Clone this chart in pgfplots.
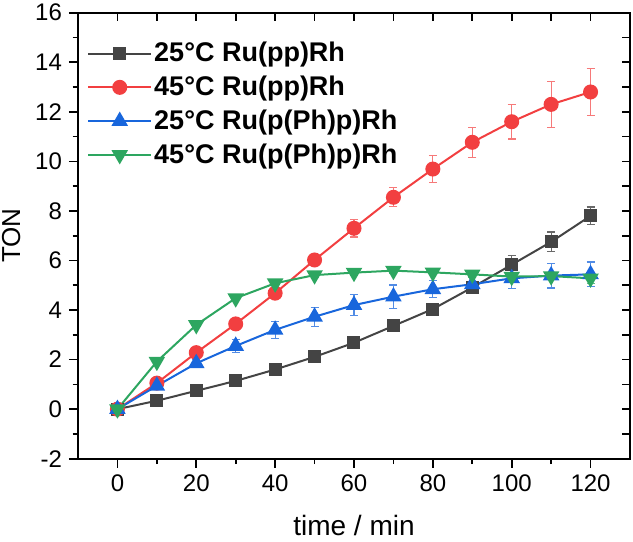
\documentclass[border=0pt]{standalone}
\usepackage{pgfplots}
\pgfplotsset{compat=1.18}
\usepackage{pgfplotstable}
\usepackage{fontspec}
\setmainfont{Liberation Sans}

\definecolor{cgray}{HTML}{444444}
\definecolor{cred}{HTML}{F23F40}
\definecolor{cblue}{HTML}{1866DC}
\definecolor{cgreen}{HTML}{2DA660}

% time / min, TON, error
\pgfplotstableread{
t y e
0 0 0
10 0.34 0.03
20 0.74 0.05
30 1.14 0.05
40 1.60 0.08
50 2.11 0.10
60 2.68 0.10
70 3.36 0.15
80 4.04 0.20
90 4.91 0.22
100 5.83 0.37
110 6.75 0.40
120 7.80 0.36
}\rppTwentyFive
\pgfplotstableread{
t y e
0 0 0
10 1.05 0.05
20 2.28 0.10
30 3.44 0.10
40 4.68 0.15
50 6.02 0.20
60 7.30 0.35
70 8.55 0.38
80 9.69 0.55
90 10.77 0.60
100 11.60 0.70
110 12.30 0.92
120 12.80 0.95
}\rppFortyFive
\pgfplotstableread{
t y e
0 0 0
10 0.94 0.10
20 1.85 0.15
30 2.55 0.25
40 3.20 0.34
50 3.73 0.38
60 4.20 0.42
70 4.54 0.47
80 4.84 0.35
90 5.04 0.38
100 5.28 0.40
110 5.39 0.50
120 5.44 0.50
}\rphpTwentyFive
\pgfplotstableread{
t y e
0 0 0
10 1.92 0.05
20 3.40 0.05
30 4.48 0.05
40 5.08 0.05
50 5.41 0.10
60 5.51 0.10
70 5.59 0.10
80 5.52 0.10
90 5.44 0.12
100 5.35 0.15
110 5.37 0.15
120 5.28 0.20
}\rphpFortyFive

\pgfplotsset{
  frame/.style={
    scale only axis, width=276pt, height=223pt,
    xmin=-10, xmax=130, ymin=-2, ymax=16,
    axis line style={line width=0.8pt, black},
  },
  errs/.style={
    error bars/.cd, y dir=both, y explicit,
    error bar style={line width=0.6pt, #1},
    error mark options={rotate=90, mark size=2pt, line width=0.6pt, #1},
  },
}

\begin{document}
\begin{tikzpicture}
\begin{axis}[
  frame,
  xtick={0,20,...,120}, ytick={-2,0,...,16},
  minor x tick num=1, minor y tick num=1,
  xtick pos=left, ytick pos=left,
  tick align=outside,
  major tick length=4.5pt, minor tick length=2.7pt,
  tick style={line width=0.8pt, black},
  /pgf/number format/assume math mode=true,
  ticklabel style={font=\fontsize{12}{14}\selectfont},
  xlabel={time / min}, ylabel={TON},
  xlabel style={font=\fontsize{14}{16}\selectfont, at={(axis description cs:0.5,-0.150)}, anchor=center},
  ylabel style={font=\fontsize{13}{15}\selectfont, at={(axis description cs:-0.121,0.5)}, anchor=center, rotate=0},
  legend cell align=left,
  legend style={at={(axis description cs:0.016,0.939)}, anchor=north west,
    draw=none, fill=none, inner sep=0pt, row sep=3.6pt,
    font=\fontsize{13.5}{16}\selectfont\bfseries,
    nodes={inner sep=1pt}},
  legend image code/.code={\draw[mark repeat=2, mark phase=2]
    plot coordinates {(0pt,0pt) (15.75pt,0pt) (31.5pt,0pt)};},
]
\addplot[cgray, line width=1pt, mark=square*, mark size=2.75pt,
  mark options={solid, fill=cgray}, errs={cgray!80}]
  table[x=t, y=y, y error=e] {\rppTwentyFive};
\addlegendentry{25°C Ru(pp)Rh}
\addplot[cred, line width=1pt, mark=*, mark size=3.25pt,
  mark options={solid, fill=cred}, errs={cred!70}]
  table[x=t, y=y, y error=e] {\rppFortyFive};
\addlegendentry{45°C Ru(pp)Rh}
\addplot[cblue, line width=1pt, mark=triangle*, mark size=3.8pt,
  mark options={solid, fill=cblue}, errs={cblue!75}]
  table[x=t, y=y, y error=e] {\rphpTwentyFive};
\addlegendentry{25°C Ru(p(Ph)p)Rh}
\addplot[cgreen, line width=1pt, mark=triangle*, mark size=3.8pt,
  mark options={solid, fill=cgreen, rotate=180}, errs={cgreen!75}]
  table[x=t, y=y, y error=e] {\rphpFortyFive};
\addlegendentry{45°C Ru(p(Ph)p)Rh}
\coordinate (sw) at (rel axis cs:0,0);
\coordinate (ne) at (rel axis cs:1,1);
\end{axis}
% mirrored ticks on the top and right sides, pointing inward
\begin{axis}[
  frame,
  xtick={0,10,...,120}, ytick={-1,0,...,15},
  xtick pos=right, ytick pos=right,
  tick align=inside, major tick length=4pt,
  tick style={line width=0.8pt, black},
  xticklabels={}, yticklabels={},
]
\end{axis}
\pgfresetboundingbox
\path ([shift={(-39pt,-41.5pt)}]sw) rectangle ([shift={(1.5pt,6.35pt)}]ne);
\end{tikzpicture}
\end{document}
